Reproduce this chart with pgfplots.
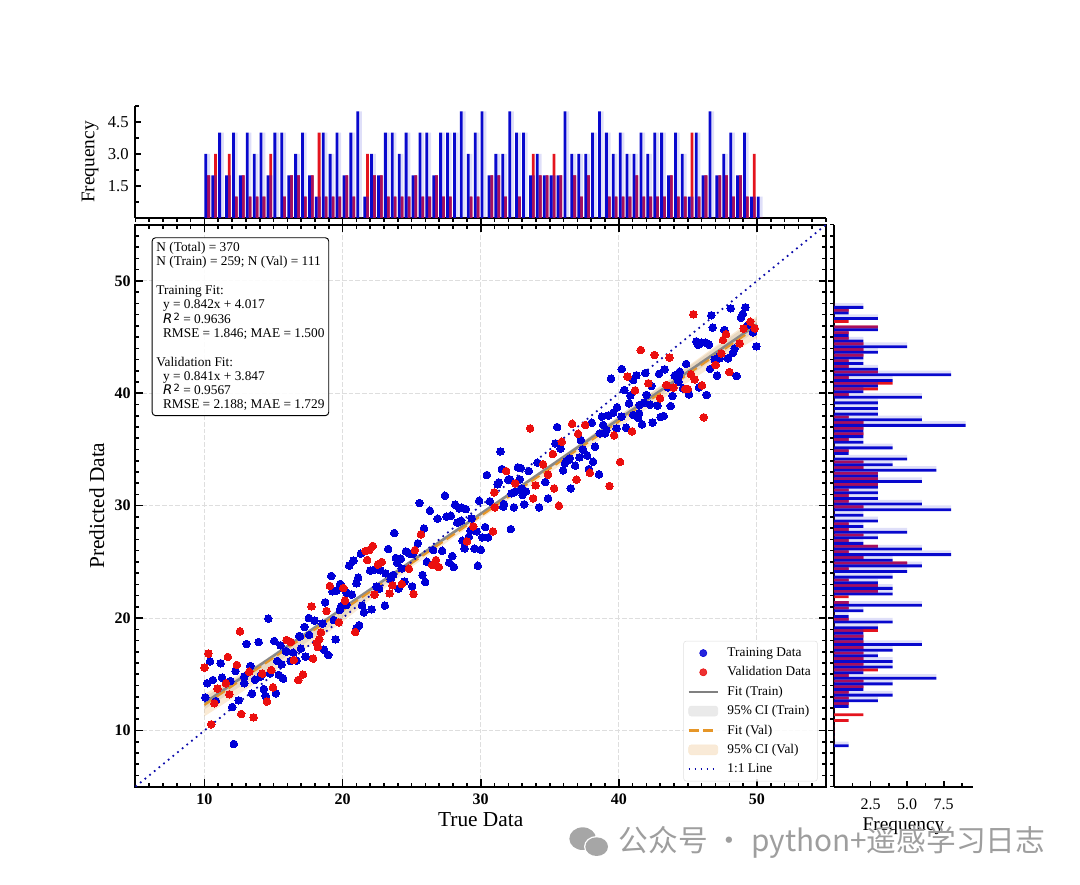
\documentclass[border=0pt]{standalone}
\usepackage{fontspec}
\usepackage{pgfplots}
\usepackage{pgfplotstable}
\pgfplotsset{compat=1.18}
\setmainfont{Liberation Serif}
\newfontfamily\dejavu{DejaVu Sans}
\newfontfamily\cjk{Noto Sans CJK SC}
\definecolor{ptblue}{RGB}{0,0,215}
\definecolor{ptred}{RGB}{235,15,15}
\definecolor{barblue}{RGB}{8,8,205}
\definecolor{barred}{RGB}{228,20,30}
\definecolor{barboth}{RGB}{165,15,95}
\definecolor{fitorange}{RGB}{230,150,40}
\definecolor{dotblue}{RGB}{10,10,170}
\newcommand{\fsz}[2]{\fontsize{#1}{#2}\selectfont}
\newcommand{\Rsq}{{\dejavu\itshape\fsz{10}{10.72}R}\raisebox{0.5ex}{\hspace{1pt}\fsz{7.5}{8}{\dejavu 2}}}

\pgfplotstableread{
x blue red
10.2 3 2
10.7 2 3
11.2 4 0
11.7 2 3
12.2 4 1
12.7 2 2
13.2 4 1
13.7 3 1
14.2 4 1
14.7 2 3
15.2 4 0
15.7 4 1
16.2 2 2
16.7 3 2
17.2 4 1
17.7 2 2
18.2 1 4
18.7 4 1
19.2 3 1
19.7 4 1
20.2 2 2
20.7 4 1
21.2 5 0
21.7 1 3
22.2 3 2
22.7 2 2
23.2 4 1
23.7 4 1
24.2 3 1
24.7 4 1
25.2 2 2
25.7 4 1
26.2 4 1
26.7 2 2
27.2 4 1
27.7 4 1
28.2 4 0
28.7 5 0
29.2 3 1
29.7 4 1
30.2 5 0
30.7 2 2
31.2 3 2
31.7 3 1
32.2 5 0
32.7 4 1
33.2 4 0
33.7 2 3
34.2 3 2
34.7 2 2
35.2 2 3
35.7 2 2
36.2 5 0
36.7 3 2
37.2 3 1
37.7 3 2
38.2 4 0
38.7 5 0
39.2 4 1
39.7 3 1
40.2 4 1
40.7 3 1
41.2 3 2
41.7 4 1
42.2 3 1
42.7 4 1
43.2 4 1
43.7 2 2
44.2 4 1
44.7 3 1
45.2 1 4
45.7 4 1
46.2 2 2
46.7 5 0
47.2 2 2
47.7 3 2
48.2 4 1
48.7 2 2
49.2 4 1
49.7 1 3
50.2 1 0
}\tophist

\pgfplotstableread{
y blue red
8.77 1 0
9.27 0 0
9.77 0 0
10.27 0 0
10.77 0 1
11.27 0 2
11.77 0 0
12.27 1 1
12.77 3 1
13.27 4 1
13.77 2 2
14.27 4 2
14.77 7 1
15.27 2 3
15.77 4 2
16.27 4 2
16.77 3 2
17.27 4 2
17.77 6 2
18.27 2 2
18.77 2 3
19.27 3 0
19.77 4 1
20.27 1 0
20.77 2 1
21.27 6 1
21.77 0 1
22.27 4 3
22.77 4 3
23.27 3 1
23.77 4 0
24.27 5 1
24.77 6 5
25.27 4 2
25.77 8 1
26.27 6 3
26.77 2 1
27.27 3 2
27.77 5 1
28.27 2 1
28.77 3 0
29.27 2 0
29.77 8 2
30.27 6 1
30.77 3 1
31.27 3 1
31.77 3 3
32.27 6 3
32.77 3 3
33.27 7 2
33.77 4 2
34.27 5 0
34.77 1 1
35.27 4 0
35.77 2 1
36.27 2 2
36.77 2 2
37.27 9 2
37.77 6 1
38.27 3 0
38.77 3 0
39.27 3 0
39.77 6 1
40.27 2 3
40.77 3 4
41.27 4 1
41.77 8 3
42.27 3 1
42.77 2 1
43.27 2 2
43.77 3 2
44.27 5 2
44.77 2 1
45.27 1 1
45.77 3 3
46.27 0 1
46.77 3 0
47.27 1 1
47.77 2 0
}\righthist

\begin{document}
\begin{tikzpicture}
\useasboundingbox (0,0) rectangle (810pt,663pt);

% ---------- top histogram
\begin{axis}[
  at={(101.55pt,499.5pt)}, anchor=south west,
  scale only axis, width=517.95pt, height=84pt,
  xmin=5, xmax=55, ymin=0, ymax=5.25,
  axis x line*=bottom, axis y line*=left,
  axis line style={-, line width=1.5pt},
  tick align=inside,
  tick style={black, line width=1.2pt},
  major tick length=4.5pt, minor tick length=3pt,
  xtick={10,20,30,40,50}, minor xtick={5,6,...,55}, xticklabel=\empty,
  ytick={1.5,3,4.5}, yticklabels={1.5,3.0,4.5},
  minor ytick={0,0.75,2.25,3.75,5.25},
  yticklabel style={font=\fsz{12.5}{14}, xshift=-1.5pt},
  ylabel={Frequency},
  every axis y label/.style={at={(axis description cs:0,0.5)}, xshift=-34pt, rotate=90, anchor=center, font=\fsz{14.5}{16}},
  ybar, bar width=2.1pt,
]
\addplot[fill=barblue, fill opacity=0.13, draw=none, bar shift=1.05pt] table[x=x,y=blue] {\tophist};
\addplot[fill=barred, draw=none, bar shift=1.05pt] table[x=x,y=red] {\tophist};
\addplot[fill=barboth, draw=none, bar shift=1.05pt] table[x=x,y expr={min(\thisrow{blue},\thisrow{red})}] {\tophist};
\addplot[fill=barblue, draw=none, bar shift=-1.05pt] table[x=x,y=blue] {\tophist};
\end{axis}

% ---------- right histogram
\begin{axis}[
  at={(625.5pt,72.98pt)}, anchor=south west,
  scale only axis, width=104.25pt, height=421.5pt,
  xmin=0, xmax=9.5, ymin=5, ymax=55,
  axis x line*=bottom, axis y line*=left,
  axis line style={-, line width=1.5pt},
  tick align=inside,
  tick style={black, line width=1.2pt},
  major tick length=4.5pt, minor tick length=3pt,
  ytick={10,20,30,40,50}, minor ytick={5,6,...,55}, yticklabel=\empty,
  xtick={2.5,5,7.5}, xticklabels={2.5,5.0,7.5},
  minor xtick={0,1.25,3.75,6.25,8.75},
  xticklabel style={font=\fsz{12}{14}, yshift=-5.5pt},
  xlabel={Frequency},
  every axis x label/.style={at={(axis description cs:0.5,0)}, anchor=center, yshift=-29.5pt, font=\fsz{14.5}{16}},
  xbar, bar width=2.1pt,
]
\addplot[fill=barblue, fill opacity=0.13, draw=none, bar shift=1.05pt] table[x=blue,y=y] {\righthist};
\addplot[fill=barred, draw=none, bar shift=1.05pt] table[x=red,y=y] {\righthist};
\addplot[fill=barboth, draw=none, bar shift=1.05pt] table[x expr={min(\thisrow{blue},\thisrow{red})},y=y] {\righthist};
\addplot[fill=barblue, draw=none, bar shift=-1.05pt] table[x=blue,y=y] {\righthist};
\end{axis}

% ---------- main scatter
\begin{axis}[
  at={(101.55pt,72.98pt)}, anchor=south west,
  scale only axis, width=517.95pt, height=421.5pt,
  xmin=5, xmax=55, ymin=5, ymax=55,
  axis line style={line width=1.5pt},
  tick align=inside,
  tick style={black, line width=1.2pt},
  major tick length=5.5pt, minor tick length=3pt,
  xtick={10,20,30,40,50}, xticklabels={10,20,30,40,50},
  ytick={10,20,30,40,50}, yticklabels={10,20,30,40,50},
  minor xtick={5,6,...,55}, minor ytick={5,6,...,55},
  ticklabel style={font=\bfseries\fsz{12}{14}},
  xticklabel style={yshift=-1.5pt},
  grid=major,
  grid style={dash pattern=on 3.5pt off 1.5pt, line width=0.7pt, color=black!13},
  xlabel={True Data}, ylabel={Predicted Data},
  every axis x label/.style={at={(axis description cs:0.5,0)}, anchor=center, yshift=-25pt, font=\fsz{16}{18}},
  every axis y label/.style={at={(axis description cs:0,0.5)}, xshift=-29pt, rotate=90, anchor=center, font=\fsz{16}{18}},
  legend style={at={(0.988,0.0095)}, anchor=south east, draw=black!12, rounded corners=2pt,
     fill=white, fill opacity=0.85, text opacity=1, font=\fsz{10}{11},
     row sep=2.1pt, inner xsep=3pt, inner ysep=3pt,
     /tikz/every odd column/.append style={column sep=4.5pt},
     /tikz/every even column/.append style={column sep=0pt}},
  legend cell align=left,
]
\addlegendimage{legend image code/.code={\fill[ptblue] (10.9pt,0) circle (2.7pt);}}
\addlegendentry{Training Data}
\addlegendimage{legend image code/.code={\fill[ptred] (10.9pt,0) circle (2.7pt);}}
\addlegendentry{Validation Data}
\addlegendimage{legend image code/.code={\draw[gray, line width=1.5pt] (0,0)--(21.75pt,0);}}
\addlegendentry{Fit (Train)}
\addlegendimage{legend image code/.code={\fill[black!9] (0,-3.75pt) rectangle (21.75pt,3.75pt);}}
\addlegendentry{95\% CI (Train)}
\addlegendimage{legend image code/.code={\draw[fitorange, line width=1.6pt, dash pattern=on 7.5pt off 3.5pt] (0,0)--(21.75pt,0);}}
\addlegendentry{Fit (Val)}
\addlegendimage{legend image code/.code={\fill[fitorange!22] (0,-3.75pt) rectangle (21.75pt,3.75pt);}}
\addlegendentry{95\% CI (Val)}
\addlegendimage{legend image code/.code={\draw[dotblue, line width=1.3pt, dash pattern=on 1.3pt off 3.2pt] (0,0)--(21.75pt,0);}}
\addlegendentry{1:1 Line}

\addplot[forget plot, only marks, mark=*, mark size=2.85pt, mark options={fill=ptblue, draw=ptblue, line width=0pt}] coordinates {
(12.13,8.80)(10.06,12.95)(10.20,14.20)(10.61,14.49)(10.40,16.15)(11.17,15.98)(11.27,14.70)(12.25,15.29)(11.89,14.40)(12.88,14.20)
(12.47,12.68)(12.01,12.09)(13.44,13.28)(14.30,13.69)(14.43,13.07)(15.17,13.31)(13.65,14.52)(13.32,15.74)(13.05,17.70)(13.92,17.87)
(14.62,19.95)(15.05,17.96)(15.51,17.58)(15.90,17.07)(16.43,16.92)(16.98,17.28)(17.32,16.57)(15.27,16.18)(15.58,15.89)(16.23,16.18)
(16.67,16.21)(15.39,14.94)(15.70,14.61)(14.74,15.09)(14.06,14.79)(17.56,20.01)(17.25,19.21)(17.97,19.77)(18.55,19.51)(16.86,18.41)
(18.65,17.19)(18.96,16.72)(19.49,18.11)(21.20,19.36)(21.01,19.09)(19.18,23.75)(20.48,24.67)(20.79,25.11)(21.32,25.73)(23.30,26.15)
(23.74,27.57)(23.86,25.35)(23.95,24.93)(22.00,24.22)(22.36,24.34)(22.75,24.25)(23.11,23.98)(23.49,23.45)(24.05,22.62)(21.13,23.60)
(19.83,23.04)(19.56,22.44)(19.27,22.38)(20.29,22.26)(20.67,22.09)(22.65,22.62)(23.06,21.11)(22.10,20.78)(21.54,20.51)(21.42,21.11)
(19.92,21.08)(18.74,21.40)(19.37,19.83)(10.83,12.62)
(12.88,14.79)(15.94,17.01)(14.14,14.94)(16.91,18.35)(17.58,18.50)(19.80,20.72)(20.29,21.17)(21.01,23.09)(22.46,22.80)(23.66,23.84)
(25.57,30.24)(27.41,30.89)(26.32,29.55)(26.88,28.84)(27.53,29.02)(27.84,29.11)(28.15,30.09)(28.44,29.76)(28.64,29.82)(28.93,29.70)
(29.89,30.44)(30.66,30.38)(25.89,27.98)(25.45,26.65)(24.58,25.93)(24.83,25.76)(25.07,25.70)(24.22,25.28)(26.10,25.01)(27.21,25.99)
(27.94,25.52)(27.72,24.93)(28.06,24.54)(25.79,23.83)(25.98,23.21)(25.04,22.82)(24.49,23.24)(28.83,26.20)(29.55,26.17)(30.01,26.08)
(29.79,24.66)(28.68,26.88)(29.26,27.77)(29.70,27.71)(29.14,27.24)(30.11,27.18)(30.54,27.18)(30.32,28.10)(32.18,27.92)(28.30,28.49)
(28.59,28.66)(30.45,32.73)(31.43,34.83)(31.53,33.26)(32.69,33.41)(32.91,33.35)(33.48,33.08)(34.11,33.82)(31.22,31.90)(31.31,32.07)
(31.99,32.31)(32.11,32.34)(32.83,32.34)(33.27,31.27)(33.03,30.95)(34.67,32.10)(34.88,30.65)(34.23,29.85)(33.15,30.12)(32.40,29.85)
(31.63,29.91)(31.68,30.15)(32.35,31.15)(35.41,35.54)(35.78,35.07)(35.53,37.00)(37.25,35.84)(37.39,35.01)(37.71,34.45)(38.14,33.91)
(36.84,33.56)(35.97,33.14)(36.21,33.97)(36.45,34.21)(37.15,34.30)(37.83,33.26)(38.57,32.79)(36.52,31.54)(38.28,35.25)(39.01,36.43)
(38.04,37.38)(38.77,37.92)(39.23,38.01)(39.59,38.27)(39.83,36.88)(38.86,37.18)
(24.27,24.42)(26.56,26.05)(29.34,28.87)(32.23,31.10)(32.47,31.24)(32.95,31.54)(36.09,33.76)(36.33,34.06)(37.42,34.95)(38.62,36.43)(39.10,36.73)
(39.44,41.30)(40.21,42.16)(48.10,47.56)(49.16,47.65)(46.70,46.94)(48.97,47.05)(48.85,46.73)(46.80,45.84)(47.64,45.63)(45.61,44.62)
(45.74,44.30)(45.98,44.50)(46.29,44.50)(46.53,44.33)(44.87,42.61)(43.32,42.13)(42.91,41.72)(41.92,41.80)(41.27,41.60)(41.03,41.18)
(40.40,40.29)(40.84,39.82)(40.74,39.11)(39.87,38.75)(42.36,40.65)(42.00,39.85)(41.83,39.17)(42.26,38.99)(42.79,38.90)(43.76,38.87)
(43.88,39.76)(44.05,41.57)(44.36,41.57)(44.31,41.03)(44.65,40.44)(45.08,39.91)(45.81,40.53)(46.36,39.85)(46.60,42.16)(47.11,41.57)
(48.53,41.54)(47.91,43.11)(48.27,43.61)(48.39,44.00)(47.25,43.26)(46.94,43.02)(49.71,45.42)(49.96,44.18)(41.39,37.80)(41.47,38.22)
(41.68,37.24)(42.45,37.39)(43.03,37.89)(43.25,37.98)(40.53,36.94)(43.56,40.53)(49.35,46.08)
(40.19,37.92)(41.51,38.96)(44.29,41.18)(47.30,43.11)(44.41,41.92)(41.03,38.07)
};
\addplot[forget plot, only marks, mark=*, mark size=2.85pt, mark options={fill=ptred, draw=ptred, line width=0pt}] coordinates {
(10.49,10.55)(12.66,11.47)(13.56,11.17)(14.52,12.57)(14.96,13.84)(16.79,14.49)(17.13,14.97)(10.71,12.42)(11.80,13.22)(10.95,13.72)
(11.55,14.20)(10.00,15.59)(10.28,16.84)(11.70,16.54)(12.35,15.83)(12.57,18.82)(14.18,15.06)(14.84,15.38)(13.24,15.23)(15.94,18.05)
(16.26,17.87)(18.43,18.73)(18.31,18.11)(18.12,17.76)(18.21,17.43)(16.48,16.27)(17.87,16.39)(19.73,19.62)(20.91,18.76)(18.84,20.63)
(17.75,21.05)(19.08,22.86)(20.05,22.68)(20.17,21.55)(22.31,22.09)(23.40,22.20)(23.61,22.92)(21.78,25.17)(22.55,24.76)(22.84,24.99)
(21.66,25.97)(21.93,26.06)(22.19,26.42)
(33.58,36.88)(36.62,37.29)(37.56,37.18)(37.05,36.40)(35.87,35.69)(39.66,36.26)(35.22,34.60)(34.52,33.68)(34.88,32.76)(31.84,33.08)
(30.98,31.18)(32.50,31.99)(33.97,31.81)(35.32,31.54)(36.93,32.31)(37.90,32.93)(39.32,31.75)(33.80,30.65)(35.66,30.00)(29.46,28.16)
(30.88,27.71)(29.00,26.82)(25.67,27.45)(25.24,26.05)(26.76,25.16)(26.49,24.72)(26.97,24.54)(24.80,24.39)(24.29,23.03)(25.14,22.14)(31.02,29.85)
(45.40,47.03)(41.59,43.85)(42.58,43.41)(43.66,43.17)(40.62,41.48)(41.18,40.26)(42.14,40.89)(42.99,39.55)(43.97,40.50)(44.79,40.38)
(44.99,40.38)(45.23,41.69)(45.49,41.24)(46.02,40.71)(47.01,42.52)(48.00,41.89)(48.75,44.44)(47.54,44.74)(47.76,45.27)(49.04,45.75)
(49.52,46.37)(49.84,45.78)(47.42,43.55)(46.15,37.86)(40.96,36.61)(40.09,33.89)(43.44,40.74)
};
% confidence bands
\addplot[forget plot, fill=black, fill opacity=0.09, draw=none] coordinates {
(10,12.98)(15,16.65)(20,20.59)(25,25.24)(30,29.40)(35,33.64)(40,37.98)(45,42.31)(50,46.67)
(50,45.57)(45,41.47)(40,37.42)(35,33.30)(30,29.16)(25,24.90)(20,20.03)(15,15.81)(10,11.88)(10,12.98)};
\addplot[forget plot, fill=fitorange, fill opacity=0.2, draw=none] coordinates {
(10,13.26)(15,16.68)(20,20.67)(25,25.19)(30,29.33)(35,33.60)(40,38.00)(45,42.42)(50,46.85)
(50,44.95)(45,40.98)(40,37.00)(35,32.96)(30,28.83)(25,24.55)(20,19.67)(15,15.24)(10,11.26)(10,13.26)};
% fits
\addplot[forget plot, gray, line width=2pt, opacity=0.9] coordinates {(10,12.44)(50,46.12)};
\addplot[forget plot, fitorange, line width=1.5pt, dash pattern=on 7.5pt off 3.5pt] coordinates {(10,12.26)(50,45.90)};
\addplot[forget plot, dotblue, line width=1.3pt, dash pattern=on 1.3pt off 3.2pt] coordinates {(5,5)(55,55)};

\node[draw=black, line width=0.7pt, rounded corners=2.5pt, fill=white, fill opacity=0.9, text opacity=1, anchor=north west,
      align=left, inner xsep=3.2pt, inner ysep=3.5pt, font=\fsz{10}{10.72}]
  at (rel axis cs:0.0236,0.9776) {%
N (Total) = 370\\
N (Train) = 259; N (Val) = 111\\[10.72pt]
Training Fit:\\
\hspace*{5pt}y = 0.842x + 4.017\\
\hspace*{5pt}\Rsq\ = 0.9636\\
\hspace*{5pt}RMSE = 1.846; MAE = 1.500\\[10.72pt]
Validation Fit:\\
\hspace*{5pt}y = 0.841x + 3.847\\
\hspace*{5pt}\Rsq\ = 0.9567\\
\hspace*{5pt}RMSE = 2.188; MAE = 1.729};
\end{axis}

% watermark
\fill[black!35] (437pt,34pt) ellipse (10pt and 8.5pt);
\fill[white] (447.5pt,28pt) ellipse (9.5pt and 8pt);
\fill[black!35] (447.5pt,28pt) ellipse (8.5pt and 7pt);
\node[anchor=west, text=black!38, font=\cjk\fsz{22.3}{26}, inner sep=0pt] at (464pt,31.5pt) {公众号 · python+遥感学习日志};
\end{tikzpicture}
\end{document}
